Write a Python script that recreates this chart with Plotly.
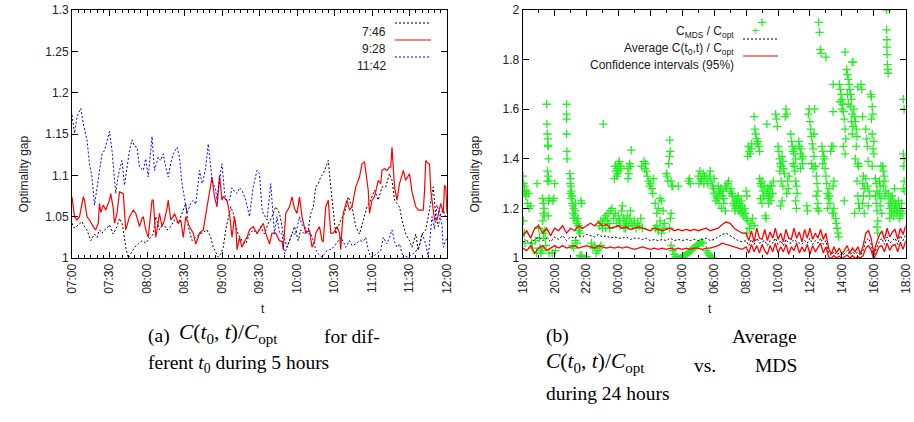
import plotly.graph_objects as go
import numpy as np

# ---------------- Left chart data (minutes since 07:00) ----------------
left_tick_labels = ['07:00', '07:30', '08:00', '08:30', '09:00', '09:30',
                    '10:00', '10:30', '11:00', '11:30', '12:00']

s746 = [(0,1.042),(2,1.036),(5,1.04),(8,1.044),(10,1.038),(12,1.034),(15,1.021),(18,1.029),(20,1.025),
        (22,1.034),(24,1.03),(26,1.034),(28,1.036),(30,1.04),(33,1.029),(36,1.038),(38,1.048),(40,1.042),
        (41,1.034),(43,1.013),(45,1.0),(47,1.005),(50,1.013),(53,1.017),(56,1.021),(59,1.018),(62,1.023),
        (65,1.029),(67,1.05),(70,1.034),(73,1.042),(76,1.034),(79,1.038),(82,1.046),(85,1.042),(88,1.054),
        (91,1.066),(93,1.038),(96,1.021),(99,1.025),(102,1.029),(105,1.031),(108,1.034),(111,1.025),
        (113,1.013),(115,1.007),(117,1.001),(119,1.005),(121,1.013),(123,1.034),(125,1.05),(127,1.062),
        (129,1.054),(131,1.038),(133,1.029),(136,1.021),(139,1.017),(142,1.029),(145,1.034),(148,1.029),
        (151,1.038),(154,1.029),(157,1.042),(160,1.05),(163,1.062),(166,1.054),(169,1.029),(172,1.013),
        (175,1.025),(178,1.038),(181,1.021),(183,1.034),(186,1.029),(189,1.034),(191,1.054),(193,1.062),
        (195,1.086),(197,1.09),(199,1.098),(201,1.102),(203,1.11),(205,1.118),(207,1.086),(209,1.054),
        (211,1.029),(213,1.038),(215,1.046),(218,1.054),(221,1.074),(224,1.062),(227,1.038),(230,1.029),
        (233,1.046),(236,1.062),(239,1.07),(242,1.082),(245,1.07),(248,1.086),(251,1.086),(254,1.102),
        (256,1.094),(258,1.07),(260,1.066),(262,1.062),(264,1.046),(267,1.029),(270,1.021),(272,1.013),
        (275,1.029),(277,1.009),(280,1.029),(283,1.034),(285,1.05),(287,1.07),(289,1.086),(291,1.05),
        (293,1.038),(295,1.054),(297,1.058),(300,1.046)]

s928 = [(0,1.074),(2,1.05),(4,1.046),(6,1.05),(9,1.074),(10,1.07),(12,1.05),(14,1.046),(17,1.038),
        (19,1.034),(21,1.042),(22,1.066),(23,1.055),(25,1.064),(27,1.058),(29,1.066),(30,1.07),(31,1.078),
        (33,1.06),(34,1.042),(36,1.054),(38,1.08),(40,1.078),(41,1.078),(43,1.034),(45,1.044),(46,1.05),
        (48,1.055),(49,1.058),(51,1.054),(53,1.045),(54,1.038),(56,1.048),(57,1.05),(59,1.034),(61,1.025),
        (62,1.04),(64,1.07),(65,1.07),(66,1.05),(67,1.025),(68,1.034),(70,1.054),(72,1.038),(74,1.046),
        (76,1.06),(77,1.07),(79,1.046),(81,1.05),(82,1.054),(85,1.042),(87,1.046),(89,1.025),(91,1.05),
        (94,1.038),(97,1.03),(99,1.017),(101,1.025),(102,1.03),(105,1.034),(107,1.054),(109,1.074),
        (110,1.078),(112,1.098),(114,1.074),(116,1.062),(117,1.08),(118,1.10),(120,1.07),(121,1.074),
        (124,1.07),(126,1.054),(128,1.025),(130,1.05),(131,1.04),(132,1.01),(134,1.025),(136,1.013),
        (138,1.02),(140,1.025),(142,1.034),(145,1.038),(148,1.03),(150,1.034),(153,1.042),(155,1.03),
        (158,1.017),(160,1.03),(163,1.03),(166,1.021),(168,1.02),(169,1.01),(171,1.054),(174,1.062),
        (176,1.074),(178,1.06),(180,1.054),(182,1.074),(184,1.05),(187,1.03),(190,1.034),(192,1.013),
        (194,1.02),(195,1.03),(198,1.038),(200,1.021),(201,1.02),(203,1.062),(205,1.07),(207,1.03),
        (209,1.03),(212,1.038),(214,1.03),(215,1.01),(216,1.035),(217,1.054),(220,1.07),(222,1.058),
        (224,1.062),(227,1.086),(230,1.098),(232,1.114),(234,1.116),(236,1.09),(237,1.082),(238,1.054),
        (240,1.07),(242,1.074),(243,1.082),(245,1.094),(247,1.09),(248,1.106),(250,1.108),(252,1.106),
        (254,1.11),(255,1.11),(256,1.134),(258,1.086),(260,1.07),(262,1.09),(264,1.10),(265,1.106),
        (267,1.094),(269,1.10),(270,1.102),(272,1.08),(273,1.074),(275,1.062),(277,1.058),(279,1.058),
        (281,1.058),(282,1.08),(283,1.118),(285,1.114),(286,1.114),(287,1.082),(289,1.054),(290,1.046),
        (292,1.046),(294,1.062),(295,1.066),(297,1.054),(298,1.088),(299,1.086),(300,1.054)]

s1142 = [(0,1.173),(2,1.151),(4,1.171),(7,1.181),(9,1.163),(12,1.143),(14,1.114),(16,1.098),(18,1.064),
         (20,1.085),(22,1.102),(24,1.126),(26,1.13),(28,1.143),(30,1.153),(32,1.13),(34,1.09),(35,1.078),
         (37,1.10),(40,1.118),(42,1.088),(44,1.11),(46,1.13),(48,1.143),(50,1.135),(52,1.134),(54,1.11),
         (57,1.106),(59,1.12),(61,1.098),(64,1.147),(66,1.106),(69,1.122),(71,1.118),(73,1.126),(75,1.11),
         (77,1.098),(79,1.115),(81,1.126),(84,1.134),(86,1.122),(88,1.09),(90,1.074),(92,1.054),(95,1.066),
         (97,1.07),(99,1.065),(102,1.106),(104,1.09),(105,1.094),(107,1.11),(109,1.138),(111,1.11),
         (112,1.094),(115,1.082),(116,1.07),(118,1.094),(120,1.114),(122,1.08),(123,1.07),(126,1.07),
         (128,1.085),(129,1.082),(132,1.078),(134,1.085),(136,1.082),(139,1.07),(142,1.05),(145,1.086),
         (147,1.098),(148,1.106),(150,1.102),(152,1.06),(153,1.054),(156,1.046),(159,1.09),(160,1.07),
         (162,1.029),(164,1.05),(166,1.03),(168,1.029),(170,1.005),(173,1.017),(176,1.029),(179,1.029),
         (182,1.05),(184,1.04),(186,1.038),(189,1.029),(191,1.03),(193,1.021),(195,1.01),(197,1.005),
         (200,1.001),(202,1.005),(204,1.009),(206,1.01),(208,1.011),(211,1.017),(215,1.025),(217,1.02),
         (219,1.013),(222,1.021),(224,1.015),(227,1.017),(230,1.021),(233,1.02),(235,1.025),(237,1.01),
         (239,1.001),(242,1.003),(245,1.006),(247,1.009),(249,1.025),(252,1.017),(254,1.025),(256,1.034),
         (258,1.02),(260,1.013),(262,1.017),(265,1.0),(267,1.002),(269,1.001),(271,1.003),(273,1.005),
         (275,1.008),(277,1.013),(279,1.02),(280,1.03),(283,1.017),(285,1.001),(287,1.03),(288,1.05),
         (290,1.035),(292,1.064),(294,1.054),(296,1.04),(297,1.013),(299,1.02),(300,1.025)]

# ---------------- Right chart data (hours since 18:00) ----------------
right_tick_labels = ['18:00', '20:00', '22:00', '00:00', '02:00', '04:00', '06:00',
                     '08:00', '10:00', '12:00', '14:00', '16:00', '18:00']

# sampling times: every 15 min from 18:00 to 07:45, then every 10 min from 08:00 to 18:00
ci_hours = np.concatenate([np.arange(0, 13.76, 0.25), 14 + np.arange(61) / 6.0])

ci_upper = [1.09,1.11,1.08,1.12,1.13,1.10,1.12,1.09,1.12,
            1.11,1.13,1.10,1.12,1.11,1.13,1.12,1.13,
            1.14,1.13,1.145,1.13,1.135,1.12,1.125,1.13,
            1.12,1.125,1.115,1.12,1.125,1.12,1.115,1.11,
            1.12,1.115,1.11,1.115,1.12,1.11,1.115,1.11,
            1.115,1.11,1.115,1.11,1.115,1.12,1.11,1.115,
            1.12,1.135,1.145,1.14,1.12,1.11,1.10,
            # 08:00 - 18:00 (10 min)
            1.10,1.07,1.11,1.065,1.12,1.08,1.075,1.115,1.07,1.105,1.08,1.12,1.075,1.10,1.065,1.115,
            1.08,1.075,1.12,1.08,1.105,1.065,1.115,1.08,1.12,1.075,1.10,1.08,1.115,1.075,1.10,
            1.04,1.015,1.045,1.02,1.04,1.015,1.035,1.05,1.02,1.04,1.025,1.045,1.015,1.05,
            1.10,1.11,1.08,
            1.02,
            1.06,1.09,1.11,1.075,1.12,1.085,1.105,1.115,1.075,1.12,1.095,1.13]
ci_lower = [1.04,1.03,1.05,1.02,1.04,1.05,1.03,1.04,1.05,
            1.04,1.05,1.04,1.045,1.05,1.04,1.045,1.05,
            1.045,1.04,1.05,1.045,1.04,1.045,1.04,1.045,
            1.04,1.045,1.04,1.035,1.04,1.045,1.04,1.035,
            1.04,1.035,1.04,1.035,1.04,1.035,1.04,1.035,
            1.04,1.035,1.04,1.04,1.035,1.04,1.04,1.045,
            1.05,1.06,1.055,1.05,1.045,1.04,1.035,
            1.045,1.02,1.055,1.025,1.05,1.02,1.055,1.03,1.015,1.05,1.025,1.06,1.02,1.045,1.025,1.055,
            1.015,1.045,1.03,1.06,1.02,1.045,1.025,1.055,1.015,1.05,1.025,1.045,1.06,1.02,1.045,
            1.005,0.998,1.01,1.0,1.008,0.997,1.005,1.012,1.0,1.01,0.998,1.006,1.0,1.01,
            1.04,1.05,1.03,
            0.995,
            1.02,1.045,1.05,1.025,1.06,1.03,1.05,1.055,1.025,1.065,1.035,1.07]
avg_ratio = [1.065,1.07,1.06,1.075,1.085,1.07,1.08,1.065,1.085,
             1.075,1.09,1.07,1.085,1.08,1.09,1.085,1.095,
             1.09,1.085,1.095,1.085,1.09,1.08,1.085,1.08,
             1.08,1.085,1.075,1.08,1.08,1.075,1.08,1.07,
             1.075,1.07,1.075,1.07,1.08,1.07,1.075,1.07,
             1.075,1.07,1.075,1.07,1.075,1.08,1.07,1.075,
             1.085,1.095,1.10,1.09,1.08,1.07,1.065,
             1.07,1.05,1.075,1.055,1.08,1.06,1.065,1.07,1.05,1.07,1.06,1.08,1.055,1.07,1.05,1.075,
             1.06,1.06,1.075,1.065,1.06,1.055,1.07,1.06,1.08,1.055,1.07,1.06,1.08,1.055,1.07,
             1.02,1.01,1.025,1.012,1.02,1.008,1.02,1.03,1.012,1.025,1.015,1.025,1.01,1.03,
             1.07,1.08,1.055,
             1.005,
             1.04,1.065,1.08,1.055,1.085,1.06,1.07,1.08,1.055,1.09,1.07,1.095]

mds_points = [
 (0.02,1.33),(0.05,1.30),(0.08,1.27),(0.12,1.29),(0.15,1.26),(0.2,1.25),(0.25,1.27),(0.3,1.22),(0.35,1.26),
 (0.4,1.20),(0.05,1.15),(0.1,1.10),(0.15,1.06),(0.5,1.21),(0.55,1.06),(0.6,1.04),
 (0.9,1.30),(1.1,1.04),(1.15,1.02),(1.2,1.03),(1.05,1.08),(0.8,1.07),(1.0,1.12),(0.87,1.02),
 (1.25,1.24),(1.3,1.22),(1.35,1.2),(1.3,1.18),(1.35,1.17),(1.25,1.15),(1.4,1.11),(1.3,1.1),(1.4,1.08),(1.45,1.05),
 (1.5,1.62),(1.52,1.54),(1.55,1.50),(1.57,1.48),(1.58,1.455),(1.6,1.45),(1.62,1.40),(1.55,1.35),(1.6,1.33),
 (1.55,1.31),(1.65,1.31),(1.62,1.23),(1.65,1.24),(1.6,1.17),(1.65,1.02),
 (1.9,1.23),(1.95,1.24),(2.0,1.30),(1.85,1.02),(2.05,1.03),
 (2.75,1.62),(2.75,1.58),(2.76,1.56),(2.75,1.50),(2.77,1.43),(2.78,1.40),
 (2.95,1.34),(3.0,1.32),(2.98,1.30),(3.02,1.29),(3.05,1.27),(3.0,1.26),(3.1,1.25),(3.05,1.24),(3.1,1.22),
 (3.15,1.21),(3.2,1.20),(3.15,1.18),(3.25,1.17),(3.2,1.16),(3.3,1.22),(3.3,1.19),
 (3.35,1.15),(3.4,1.14),(3.45,1.16),(3.5,1.13),(3.55,1.12),(3.6,1.10),(3.65,1.23),(3.7,1.22),(3.5,1.11),
 (3.4,1.06),(3.6,1.01),(3.65,1.005),(3.7,1.01),(4.0,1.005),(3.2,1.04),(3.1,1.05),(3.3,1.07),
 (4.4,1.04),(4.5,1.05),(4.3,1.06),(4.6,1.02),(4.7,1.03),(4.8,1.04),(4.9,1.05),
 (5.05,1.54),
 (4.8,1.13),(4.9,1.15),(5.0,1.14),(5.1,1.16),(5.2,1.17),(5.3,1.15),(5.35,1.18),(5.4,1.14),(5.5,1.19),
 (5.45,1.12),(5.2,1.12),(5.0,1.12),
 (5.8,1.37),(5.85,1.35),(5.9,1.36),(5.95,1.34),(6.0,1.38),(6.05,1.39),(6.1,1.36),(5.9,1.33),(6.0,1.35),
 (5.75,1.32),(6.15,1.37),
 (5.6,1.20),(5.7,1.16),(5.8,1.18),(5.9,1.14),(6.0,1.17),(6.05,1.15),(6.1,1.13),(6.2,1.19),(6.3,1.16),
 (6.35,1.12),(6.4,1.15),(6.5,1.14),(6.55,1.17),(6.6,1.13),(6.7,1.16),(6.8,1.14),(6.9,1.13),(7.0,1.15),
 (7.1,1.12),(7.2,1.14),(7.3,1.13),(7.4,1.16),(7.5,1.12),(6.25,1.21),(6.45,1.12),(6.75,1.19),
 (6.6,1.36),(6.65,1.34),(6.7,1.38),(6.6,1.32),(6.8,1.435),(6.75,1.37),
 (7.45,1.37),(7.6,1.39),(7.7,1.38),(7.65,1.36),(7.75,1.35),
 (7.8,1.33),(7.9,1.31),(8.0,1.30),(7.95,1.29),(8.1,1.28),(8.15,1.26),(8.2,1.32),
 (8.3,1.22),(8.4,1.18),(8.5,1.2),(8.6,1.24),(8.7,1.23),(8.8,1.19),(8.3,1.12),(8.4,1.13),(8.6,1.15),
 (8.5,1.11),(8.7,1.1),(8.8,1.12),(8.9,1.14),
 (9.0,1.34),(9.1,1.31),(9.05,1.33),(9.15,1.38),(9.2,1.41),(9.25,1.43),(9.22,1.475),(9.3,1.31),(9.35,1.29),
 (9.4,1.29),(9.3,1.18),(9.25,1.16),(9.2,1.12),
 (9.3,1.05),(9.4,1.03),(9.5,1.015),(9.6,1.005),(9.7,1.0),(9.8,0.998),(9.9,1.0),(10.0,1.003),(10.1,1.008),
 (10.2,1.012),(10.3,1.018),(10.4,1.022),(10.5,1.028),(10.6,1.034),(10.7,1.04),(10.8,1.045),(10.9,1.05),
 (11.0,1.055),(11.1,1.06),(11.2,1.065),(11.3,1.06),(11.5,1.03),(11.6,1.02),(11.7,1.01),(11.8,1.005),(11.9,1.0),
 (9.75,1.29),(10.4,1.31),(10.45,1.32),(10.5,1.30),
 (11.0,1.33),(11.1,1.35),(11.15,1.32),(11.2,1.31),(11.3,1.34),(11.35,1.30),(11.4,1.33),(11.5,1.32),(11.05,1.3),
 (11.6,1.30),(11.7,1.33),(11.75,1.35),(11.8,1.31),(11.9,1.29),(12.0,1.26),(12.1,1.23),(12.0,1.32),(11.95,1.28),
 (12.15,1.25),
 (12.25,1.29),(12.3,1.27),(12.35,1.26),(12.4,1.28),(12.5,1.25),(12.55,1.27),(12.6,1.24),(12.7,1.29),(12.75,1.28),
 (12.3,1.22),(12.45,1.20),(12.6,1.22),(12.7,1.19),(12.2,1.24),
 (12.85,1.30),(12.9,1.31),(13.0,1.27),(13.05,1.28),(13.1,1.26),(13.15,1.25),(13.2,1.22),
 (13.25,1.21),(13.3,1.23),(13.35,1.20),(13.4,1.22),(13.45,1.24),(13.5,1.21),(13.55,1.19),(13.6,1.22),(13.65,1.20),
 (13.7,1.18),(13.75,1.21),(13.8,1.19),(13.85,1.17),(13.9,1.20),(13.95,1.18),(13.3,1.19),(13.5,1.25),(13.7,1.23),
 (14.0,1.27),(14.05,1.25),(14.0,1.16),(14.1,1.15),(14.05,1.10),(14.2,1.12),(14.3,1.14),(14.4,1.16),(14.5,1.13),
 (14.15,1.45),(14.2,1.43),(14.25,1.42),(14.3,1.44),(14.1,1.41),(14.35,1.46),
 (14.5,1.57),(14.55,1.52),(14.6,1.50),(14.65,1.48),(14.7,1.46),(14.75,1.47),(14.8,1.45),(14.85,1.43),
 (15.0,1.95),
 (14.85,1.32),(14.9,1.30),(14.95,1.29),(15.0,1.31),(15.05,1.27),(15.1,1.25),(15.15,1.29),(15.2,1.17),(15.25,1.16),
 (14.9,1.24),(15.0,1.22),
 (15.3,1.26),(15.35,1.28),(15.4,1.24),(15.45,1.27),(15.5,1.25),(15.55,1.23),(15.6,1.29),(15.65,1.26),(15.7,1.31),
 (15.4,1.22),(15.3,1.54),(15.5,1.29),
 (15.85,1.58),(15.9,1.56),(15.95,1.53),(16.0,1.45),(16.05,1.43),(16.1,1.40),(16.15,1.38),(16.2,1.37),(16.25,1.41),
 (16.3,1.39),(16.35,1.36),(16.1,1.35),(16.2,1.31),(16.3,1.29),(16.25,1.23),(16.15,1.21),(16.4,1.34),
 (16.5,1.60),(16.55,1.58),(16.45,1.57),(16.6,1.31),(16.65,1.28),(16.55,1.26),(16.7,1.33),
 (16.8,1.50),(16.85,1.47),(16.9,1.45),(16.95,1.43),(17.0,1.42),(17.05,1.44),(17.1,1.40),(17.0,1.37),(17.05,1.35),
 (17.1,1.31),(17.15,1.29),(17.2,1.26),(17.1,1.23),(17.15,1.20),(16.95,1.38),
 (17.3,1.47),(17.35,1.45),(17.4,1.42),(17.45,1.44),(17.5,1.40),(17.55,1.38),(17.4,1.36),(17.55,1.41),
 (17.8,1.21),(17.85,1.19),(17.9,1.58),(17.95,1.60),(18.0,1.55),(18.05,1.52),(18.1,1.49),(18.15,1.46),(18.2,1.44),
 (18.25,1.41),(18.1,1.38),(18.2,1.36),(18.3,1.60),(18.25,1.50),
 (18.35,1.37),(18.4,1.33),(18.45,1.30),(18.5,1.27),(18.4,1.25),(18.5,1.22),(18.55,1.19),(18.45,1.20),
 (18.55,1.95),(18.6,1.91),(18.65,1.84),(18.7,1.825),
 (18.75,1.45),(18.8,1.43),(18.85,1.41),(18.9,1.40),(18.8,1.38),(18.95,1.36),(19.0,1.33),
 (19.0,1.81),(19.05,1.30),(19.1,1.26),(19.15,1.24),(19.1,1.20),(19.2,1.28),
 (19.3,1.43),(19.35,1.45),(19.2,1.25),(19.25,1.22),(19.4,1.18),(19.45,1.70),(19.45,1.59),(19.45,1.45),(19.5,1.31),
 (19.45,1.29),(19.5,1.20),(19.48,1.18),
 (19.6,1.16),(19.65,1.14),(19.7,1.12),(19.75,1.10),(19.8,1.085),
 (19.85,1.70),(19.9,1.68),(19.95,1.66),(19.9,1.63),(20.0,1.60),
 (20.0,1.64),(20.05,1.62),(20.1,1.59),(20.15,1.56),(20.2,1.52),(20.25,1.48),(20.1,1.45),(20.2,1.42),(20.15,1.23),
 (20.2,1.83),
 (20.3,1.76),(20.35,1.74),(20.4,1.72),(20.45,1.70),(20.35,1.66),(20.4,1.62),
 (20.5,1.68),(20.55,1.66),(20.6,1.64),(20.55,1.61),(20.65,1.58),(20.6,1.55),(20.7,1.53),(20.65,1.50),
 (20.65,1.79),(20.7,1.79),
 (20.75,1.60),(20.8,1.57),(20.85,1.55),(20.9,1.52),(20.95,1.49),(20.9,1.45),(20.85,1.40),(21.0,1.38),(21.05,1.37),
 (20.95,1.31),(21.0,1.25),(21.05,1.22),(20.8,1.18),(21.1,1.20),
 (21.0,1.69),
 (21.2,1.70),(21.25,1.68),(21.3,1.57),(21.35,1.33),(21.3,1.30),(21.4,1.28),(21.35,1.25),(21.4,1.18),(21.3,1.22),
 (21.5,1.52),(21.55,1.48),(21.6,1.45),(21.65,1.39),(21.5,1.32),(21.6,1.29),(21.7,1.27),(21.75,1.25),(21.65,1.21),
 (21.8,1.66),(21.85,1.65),(21.9,1.61),(21.95,1.58),(21.85,1.56),(21.9,1.50),(22.0,1.47),(21.95,1.44),(22.0,1.42),
 (21.9,1.37),
 (22.1,1.32),(22.15,1.30),(22.2,1.27),(22.1,1.25),(22.15,1.22),(22.2,1.19),(22.25,1.15),(22.2,1.125),(22.25,1.10),
 (22.35,1.31),(22.4,1.29),(22.35,1.26),(22.45,1.24),(22.4,1.21),(22.5,1.18),(22.45,1.37),
 (22.55,1.37),(22.6,1.35),(22.65,1.33),(22.7,1.31),(22.6,1.29),(22.75,1.27),(22.7,1.25),
 (22.8,2.0),(22.8,1.92),(22.82,1.88),(22.82,1.85),(22.84,1.82),(22.86,1.78),(22.88,1.76),(22.9,1.745),
 (22.9,1.26),(22.95,1.22),(23.0,1.20),(23.05,1.24),(23.1,1.18),(23.0,1.16),(23.1,1.21),(23.15,1.25),(23.2,1.23),
 (23.2,1.19),(23.25,1.17),(23.3,1.20),(23.35,1.22),(23.4,1.18),(23.3,1.28),
 (23.45,1.21),(23.5,1.19),(23.55,1.23),(23.6,1.20),(23.65,1.17),(23.7,1.19),(23.75,1.22),(23.8,1.18),(23.6,1.16),
 (23.85,1.64),(23.9,1.60),(23.85,1.42),(23.9,1.40),(23.88,1.37),(23.9,1.31),(23.85,1.28),(23.95,1.27),
]

mds_hours = [p[0] for p in mds_points]
mds_ratio = [p[1] for p in mds_points]

# ---------------- Figure ----------------
W, H = 914, 422
GREEN = '#22ee22'
TICKFONT = dict(family='Liberation Sans, Arial, sans-serif', size=12, color='#222')

fig = go.Figure()

def xy(series):
    return [p[0] for p in series], [p[1] for p in series]

x, y = xy(s746)
fig.add_trace(go.Scatter(x=x, y=y, mode='lines', xaxis='x', yaxis='y',
                         line=dict(color='black', width=1, dash='2px,2px'), showlegend=False))
x, y = xy(s928)
fig.add_trace(go.Scatter(x=x, y=y, mode='lines', xaxis='x', yaxis='y',
                         line=dict(color='#ff0000', width=1.2), showlegend=False))
x, y = xy(s1142)
fig.add_trace(go.Scatter(x=x, y=y, mode='lines', xaxis='x', yaxis='y',
                         line=dict(color='#0000ff', width=1, dash='2px,2px'), showlegend=False))

fig.add_trace(go.Scatter(x=mds_hours, y=mds_ratio, mode='markers', xaxis='x2', yaxis='y2',
                         marker=dict(symbol='cross-thin', size=6, color=GREEN,
                                     line=dict(width=1.3, color=GREEN)), showlegend=False))
fig.add_trace(go.Scatter(x=ci_hours, y=avg_ratio, mode='lines', xaxis='x2', yaxis='y2',
                         line=dict(color='black', width=1, dash='2px,2px'), showlegend=False))
fig.add_trace(go.Scatter(x=ci_hours, y=ci_upper, mode='lines', xaxis='x2', yaxis='y2',
                         line=dict(color='#ff0000', width=1.3), showlegend=False))
fig.add_trace(go.Scatter(x=ci_hours, y=ci_lower, mode='lines', xaxis='x2', yaxis='y2',
                         line=dict(color='#ff0000', width=1.3), showlegend=False))

def px(v):
    return v / W

def py(v):
    return 1 - v / H

axis_common = dict(showline=True, linecolor='black', linewidth=1, mirror='allticks',
                   ticks='inside', ticklen=6, tickcolor='black', showgrid=False,
                   zeroline=False, tickfont=TICKFONT, automargin=False)

fig.update_layout(
    width=W, height=H, margin=dict(l=0, r=0, t=0, b=0, autoexpand=False),
    paper_bgcolor='white', plot_bgcolor='white',
    xaxis=dict(domain=[px(72), px(447)], range=[0, 300], anchor='y',
               tickvals=list(range(0, 301, 30)), ticktext=left_tick_labels, tickangle=-90,
               minor=dict(dtick=5, tick0=0, ticks='inside', ticklen=3, tickcolor='black'),
               **axis_common),
    yaxis=dict(domain=[py(258), py(10)], range=[1, 1.3], anchor='x',
               tickvals=[1, 1.05, 1.1, 1.15, 1.2, 1.25, 1.3],
               ticktext=['1', '1.05', '1.1', '1.15', '1.2', '1.25', '1.3'],
               **axis_common),
    xaxis2=dict(domain=[px(522.7), px(905.7)], range=[0, 24], anchor='y2',
                tickvals=list(range(0, 25, 2)), ticktext=right_tick_labels, tickangle=-90,
                minor=dict(dtick=1, tick0=0, ticks='inside', ticklen=3, tickcolor='black'),
                **axis_common),
    yaxis2=dict(domain=[py(258), py(10)], range=[1, 2], anchor='x2',
                tickvals=[1, 1.2, 1.4, 1.6, 1.8, 2],
                ticktext=['1', '1.2', '1.4', '1.6', '1.8', '2'],
                **axis_common),
)

ann = []
SANS = dict(family='Liberation Sans, Arial, sans-serif', size=12, color='#222')
# axis titles
ann.append(dict(x=px(14), y=py(134), text='Optimality gap', textangle=-90, showarrow=False,
                xref='paper', yref='paper', font=SANS))
ann.append(dict(x=px(259), y=py(318), text='t', showarrow=False, xref='paper', yref='paper', font=SANS))
ann.append(dict(x=px(474), y=py(134), text='Optimality gap', textangle=-90, showarrow=False,
                xref='paper', yref='paper', font=SANS))
ann.append(dict(x=px(714), y=py(318), text='t', showarrow=False, xref='paper', yref='paper', font=SANS))

# left legend
for label, yy in [('7:46', 23), ('9:28', 40), ('11:42', 57)]:
    ann.append(dict(x=px(388), y=py(yy), text=label, showarrow=False, xanchor='right',
                    xref='paper', yref='paper', font=SANS))
shapes = [
    dict(type='line', xref='paper', yref='paper', x0=px(395), x1=px(431), y0=py(23), y1=py(23),
         line=dict(color='black', width=1, dash='2px,2px')),
    dict(type='line', xref='paper', yref='paper', x0=px(395), x1=px(431), y0=py(40), y1=py(40),
         line=dict(color='#ff0000', width=1.2)),
    dict(type='line', xref='paper', yref='paper', x0=px(395), x1=px(431), y0=py(57), y1=py(57),
         line=dict(color='#0000ff', width=1, dash='2px,2px')),
    dict(type='line', xref='paper', yref='paper', x0=px(743), x1=px(778), y0=py(39), y1=py(39),
         line=dict(color='black', width=1, dash='2px,2px')),
    dict(type='line', xref='paper', yref='paper', x0=px(743), x1=px(778), y0=py(56), y1=py(56),
         line=dict(color='#ff0000', width=1.2)),
]
# right legend
ann.append(dict(x=px(736), y=py(22), text='C<sub>MDS</sub> / C<sub>opt</sub>', showarrow=False,
                xanchor='right', xref='paper', yref='paper', font=SANS))
ann.append(dict(x=px(736), y=py(39), text='Average C(t<sub>0</sub>,t) / C<sub>opt</sub>', showarrow=False,
                xanchor='right', xref='paper', yref='paper', font=SANS))
ann.append(dict(x=px(736), y=py(56), text='Confidence intervals (95%)', showarrow=False,
                xanchor='right', xref='paper', yref='paper', font=SANS))
ann.append(dict(x=px(761), y=py(22), text='+', showarrow=False,
                xref='paper', yref='paper', font=dict(family='Liberation Sans', size=12, color=GREEN)))

# captions
SERIF = dict(family='Liberation Serif, Times New Roman, serif', size=19.5, color='black')
MATH = dict(family='Liberation Serif, Times New Roman, serif', size=21.5, color='black')
math_c = '<i>C</i>(<i>t</i><sub>0</sub>, <i>t</i>)/<i>C</i><sub>opt</sub>'
ann.append(dict(x=px(146), y=py(349), text='(a)', showarrow=False, xanchor='left',
                xref='paper', yref='paper', font=SERIF))
ann.append(dict(x=px(177), y=py(349), text=math_c, showarrow=False, xanchor='left',
                xref='paper', yref='paper', font=MATH))
ann.append(dict(x=px(382), y=py(349), text='for dif-', showarrow=False, xanchor='right',
                xref='paper', yref='paper', font=SERIF))
ann.append(dict(x=px(146), y=py(378), text='ferent <i>t</i><sub>0</sub> during 5 hours', showarrow=False,
                xanchor='left', xref='paper', yref='paper', font=SERIF))
ann.append(dict(x=px(544), y=py(349), text='(b)', showarrow=False, xanchor='left',
                xref='paper', yref='paper', font=SERIF))
ann.append(dict(x=px(799), y=py(349), text='Average', showarrow=False, xanchor='right',
                xref='paper', yref='paper', font=SERIF))
ann.append(dict(x=px(544), y=py(378), text=math_c,
                showarrow=False, xanchor='left', xref='paper', yref='paper', font=MATH))
ann.append(dict(x=px(705), y=py(378), text='vs.', showarrow=False, xanchor='center',
                xref='paper', yref='paper', font=SERIF))
ann.append(dict(x=px(799), y=py(378), text='MDS', showarrow=False, xanchor='right',
                xref='paper', yref='paper', font=SERIF))
ann.append(dict(x=px(544), y=py(406), text='during 24 hours', showarrow=False, xanchor='left',
                xref='paper', yref='paper', font=SERIF))

fig.update_layout(annotations=ann, shapes=shapes)
fig.write_html('out.html', config={'displayModeBar': False},
               post_script="document.body.style.margin='0px';document.body.style.overflow='hidden';")
